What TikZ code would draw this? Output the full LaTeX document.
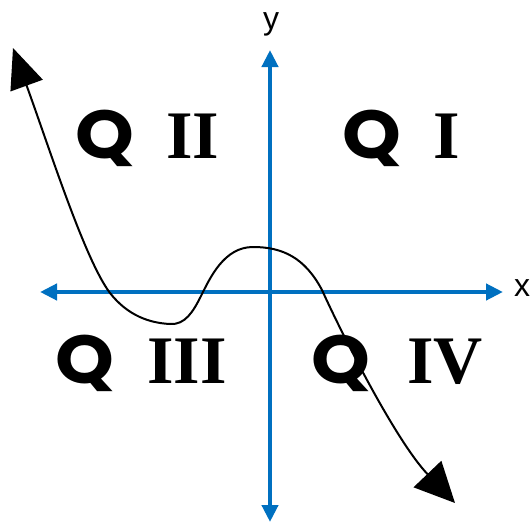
\documentclass[tikz,border=0pt]{standalone}
\usepackage{fontspec}
\setmainfont{Liberation Serif}
\newfontfamily\qfont{Poppins}
\newfontfamily\lblfont{Liberation Sans}
\usetikzlibrary{arrows.meta}
\definecolor{axisblue}{HTML}{0070C0}
\tikzset{
  axisline/.style={draw=axisblue, line width=4.2pt, {Triangle[length=17pt,width=16pt]}-{Triangle[length=17pt,width=16pt]}},
  curveline/.style={draw=black, line width=2pt, {Triangle[length=40pt,width=34pt]}-{Triangle[length=40pt,width=38pt]}},
  qletter/.style={anchor=base, inner sep=0pt, xscale=1.1, font=\qfont\bfseries\fontsize{68}{68}\selectfont},
  numeral/.style={anchor=base, inner sep=0pt, font=\bfseries\fontsize{68}{68}\selectfont},
  axlabel/.style={inner sep=0pt, font=\lblfont\fontsize{32}{32}\selectfont}
}
\begin{document}
\begin{tikzpicture}[x=1pt,y=-1pt]
\useasboundingbox (0,0) rectangle (531,522);
\coordinate (xl) at (40,292);
\coordinate (xr) at (503,292);
\coordinate (yt) at (270,50);
\coordinate (yb) at (270,522);
\draw[axisline] (xl) -- (xr);
\draw[axisline] (yb) -- (yt);
\node[axlabel] (ylab) at (271,24) {y};
\node[axlabel] (xlab) at (522,288) {x};
\coordinate (c0) at (13,48);
\coordinate (c1) at (110,293);
\coordinate (c2) at (170,324);
\coordinate (c3) at (201,296);
\coordinate (c4) at (253,247);
\coordinate (c5) at (322,290);
\coordinate (c6) at (455,503);
\draw[curveline] (c0) .. controls (50,150) and (85,260) .. (c1)
  .. controls (128,316) and (150,323) .. (c2)
  .. controls (185,325) and (193,312) .. (c3)
  .. controls (210,278) and (224,247) .. (c4)
  .. controls (283,247) and (305,258) .. (c5)
  .. controls (340,330) and (395,440) .. (c6);
\node[qletter] (q2) at (105,158) {Q};
\node[numeral] (n2) at (193,158) {II};
\node[qletter] (q1) at (372,158) {Q};
\node[numeral] (n1) at (447,158) {I};
\node[qletter] (q3) at (85,383) {Q};
\node[numeral] (n3) at (187,383) {III};
\node[qletter] (q4) at (341,383) {Q};
\node[numeral] (n4) at (445,383) {IV};
\end{tikzpicture}
\end{document}
